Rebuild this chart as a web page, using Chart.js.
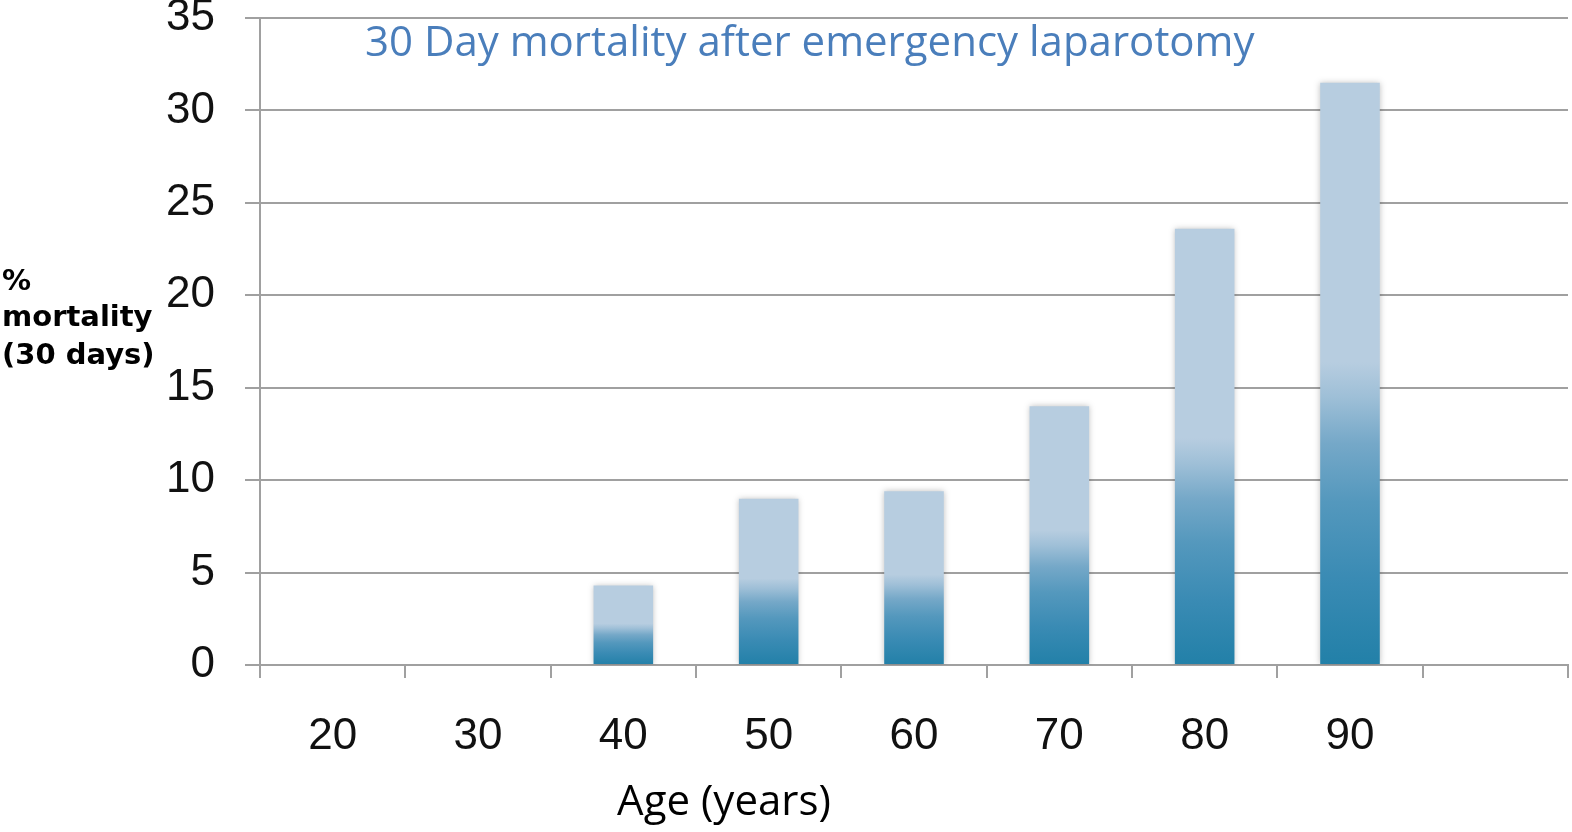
<!DOCTYPE html>
<html>
<head>
<meta charset="utf-8">
<script src="https://cdn.jsdelivr.net/npm/chart.js@4/dist/chart.umd.min.js"></script>
<style>
  html, body { margin: 0; padding: 0; background: #fff; }
  #wrap { width: 1572px; height: 832px; }
</style>
</head>
<body>
<div id="wrap"><canvas id="mortChart" width="1572" height="832"></canvas></div>
<script>
  // data
  var ageLabels = ['20', '30', '40', '50', '60', '70', '80', '90', ''];
  var mortality = [0, 0, 4.3, 9.0, 9.4, 14.0, 23.6, 31.5, null];
  var yTicks = [0, 5, 10, 15, 20, 25, 30, 35];

  var titleText = '30 Day mortality after emergency laparotomy';
  var yLabelLines = ['%', 'mortality', '(30 days)'];
  var xLabelText = 'Age (years)';

  var gridColor = '#a0a0a0';
  var lightBlue = '#b7cde0';

  // gradient for each bar, dark at the base fading to light blue half way up
  function barFill(context) {
    var chart = context.chart;
    var v = context.raw;
    if (!chart.chartArea || !v) return lightBlue;
    var y = chart.scales.y;
    var top = y.getPixelForValue(v);
    var base = y.getPixelForValue(0);
    var g = chart.ctx.createLinearGradient(0, base, 0, top);
    g.addColorStop(0, '#2280a8');
    g.addColorStop(0.15, '#3a8bb4');
    g.addColorStop(0.28, '#5498bd');
    g.addColorStop(0.38, '#75a8c8');
    g.addColorStop(0.46, '#9ebfd7');
    g.addColorStop(0.52, lightBlue);
    g.addColorStop(1, lightBlue);
    return g;
  }

  // soft shadow round the bars
  var barShadow = {
    id: 'barShadow',
    beforeDatasetsDraw(chart) {
      var ctx = chart.ctx;
      ctx.save();
      ctx.shadowColor = 'rgba(0,0,0,0.25)';
      ctx.shadowBlur = 6;
    },
    afterDatasetsDraw(chart) {
      chart.ctx.restore();
    }
  };

  // title inside the plot, horizontal y label and x label
  var textBits = {
    id: 'textBits',
    afterDraw(chart) {
      var ctx = chart.ctx;
      var area = chart.chartArea;
      ctx.save();
      ctx.fillStyle = '#4a7ebb';
      ctx.font = '42px "Open Sans"';
      ctx.textAlign = 'left';
      ctx.textBaseline = 'middle';
      ctx.fillText(titleText, area.left + 105, 44);

      ctx.fillStyle = '#000';
      ctx.font = 'bold 29px "DejaVu Sans"';
      ctx.fillText(yLabelLines[0], 2, 282);
      ctx.fillText(yLabelLines[1], 2, 318);
      ctx.fillText(yLabelLines[2], 2, 356);

      ctx.font = '42px "Open Sans"';
      ctx.textAlign = 'center';
      ctx.fillText(xLabelText, 724, 803);
      ctx.restore();
    }
  };

  var ctx = document.getElementById('mortChart').getContext('2d');
  var mortChart = new Chart(ctx, {
    type: 'bar',
    data: {
      labels: ageLabels,
      datasets: [{
        label: '% mortality',
        data: mortality,
        backgroundColor: barFill,
        borderWidth: 0,
        categoryPercentage: 1,
        barPercentage: 0.41
      }]
    },
    options: {
      responsive: false,
      animation: false,
      layout: { padding: { top: 18, right: 4, left: 0, bottom: 0 } },
      plugins: {
        legend: { display: false },
        tooltip: { enabled: false }
      },
      scales: {
        x: {
          offset: true,
          grid: {
            offset: true,
            drawOnChartArea: false,
            drawTicks: true,
            tickLength: 13,
            color: gridColor,
            lineWidth: 2
          },
          border: { display: true, color: gridColor, width: 2 },
          ticks: {
            color: '#111',
            font: { family: '"Liberation Sans"', size: 44 },
            padding: 32,
            maxRotation: 0
          },
          afterFit(scale) {
            scale.height = 167;
            scale.paddingLeft = 0;
            scale.paddingRight = 0;
          }
        },
        y: {
          min: 0,
          max: 35,
          afterBuildTicks(scale) {
            scale.ticks = yTicks.map(function (v) { return { value: v }; });
          },
          grid: {
            color: gridColor,
            lineWidth: 2,
            tickLength: 15
          },
          border: { display: true, color: gridColor, width: 2 },
          ticks: {
            color: '#111',
            font: { family: '"Liberation Sans"', size: 44 },
            padding: 30
          },
          afterFit(scale) {
            scale.width = 260;
            scale.paddingTop = 0;
            scale.paddingBottom = 0;
          }
        }
      }
    },
    plugins: [barShadow, textBits]
  });
</script>
</body>
</html>
